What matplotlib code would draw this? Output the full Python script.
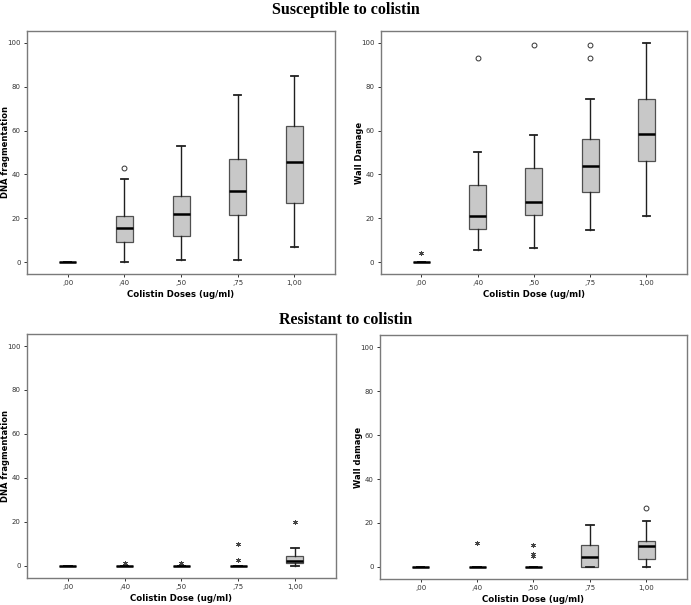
import numpy as np
import matplotlib.pyplot as plt

doses = [",00", ",40", ",50", ",75", "1,00"]

# five-number summaries: low whisker, q1, median, q3, high whisker
sus_dna_low = [0, 0, 1, 1, 7]
sus_dna_q1 = [0, 9, 12, 21.5, 27]
sus_dna_med = [0, 15.5, 22, 32.5, 45.5]
sus_dna_q3 = [0, 21, 30, 47, 62]
sus_dna_high = [0, 38, 53, 76, 85]
sus_dna_out = [[], [43], [], [], []]
sus_dna_ext = [[], [], [], [], []]

sus_wall_low = [0, 5.5, 6.5, 14.5, 21]
sus_wall_q1 = [0, 15, 21.5, 32, 46]
sus_wall_med = [0, 21, 27.5, 44, 58.5]
sus_wall_q3 = [0, 35, 43, 56, 74.5]
sus_wall_high = [0, 50, 58, 74.5, 100]
sus_wall_out = [[], [93], [99], [93, 99], []]
sus_wall_ext = [[4], [], [], [], []]

res_dna_low = [0, 0, 0, 0, 0]
res_dna_q1 = [0, 0, 0, 0, 1]
res_dna_med = [0, 0, 0, 0, 2]
res_dna_q3 = [0, 0, 0, 0, 4.5]
res_dna_high = [0, 0, 0, 0, 8]
res_dna_out = [[], [], [], [], []]
res_dna_ext = [[], [1], [1], [2.5, 10], [20]]

res_wall_low = [0, 0, 0, 0, 0]
res_wall_q1 = [0, 0, 0, 0, 3.5]
res_wall_med = [0, 0, 0, 4.5, 9.5]
res_wall_q3 = [0, 0, 0, 10, 12]
res_wall_high = [0, 0, 0, 19, 21]
res_wall_out = [[], [], [], [], [27]]
res_wall_ext = [[], [11], [5, 6, 10], [], []]

panels = [
    ([0.039, 0.547, 0.446, 0.402], "Colistin Doses (ug/ml)", "DNA fragmentation",
     sus_dna_low, sus_dna_q1, sus_dna_med, sus_dna_q3, sus_dna_high, sus_dna_out, sus_dna_ext),
    ([0.551, 0.547, 0.443, 0.402], "Colistin Dose (ug/ml)", "Wall Damage",
     sus_wall_low, sus_wall_q1, sus_wall_med, sus_wall_q3, sus_wall_high, sus_wall_out, sus_wall_ext),
    ([0.039, 0.045, 0.447, 0.403], "Colistin Dose (ug/ml)", "DNA fragmentation",
     res_dna_low, res_dna_q1, res_dna_med, res_dna_q3, res_dna_high, res_dna_out, res_dna_ext),
    ([0.550, 0.043, 0.444, 0.403], "Colistin Dose (ug/ml)", "Wall damage",
     res_wall_low, res_wall_q1, res_wall_med, res_wall_q3, res_wall_high, res_wall_out, res_wall_ext),
]

fig = plt.figure(figsize=(6.91, 6.05), dpi=100)

for rect, xlab, ylab, lo, q1, med, q3, hi, out, ext in panels:
    ax = fig.add_axes(rect)
    stats = []
    for i in range(len(doses)):
        stats.append(dict(whislo=lo[i], q1=q1[i], med=med[i], q3=q3[i], whishi=hi[i],
                          fliers=out[i], label=doses[i]))
    pos = np.arange(len(doses))
    ax.bxp(stats, positions=pos, widths=0.3, capwidths=0.13, patch_artist=True,
           boxprops=dict(facecolor="#c8c8c8", edgecolor="#505050", linewidth=0.9),
           medianprops=dict(color="black", linewidth=1.8),
           whiskerprops=dict(color="#202020", linewidth=1.0),
           capprops=dict(color="#202020", linewidth=1.3),
           flierprops=dict(marker="o", markersize=3.5, markerfacecolor="white",
                           markeredgecolor="#333333", markeredgewidth=0.7))
    for i in range(len(doses)):
        if ext[i]:
            ax.plot([pos[i]] * len(ext[i]), ext[i], linestyle="none", marker=(6, 2, 0),
                    markersize=3.5, color="#444444", markeredgewidth=0.6)
    ax.set_xlim(-0.72, 4.72)
    ax.set_ylim(-5.5, 105.5)
    ax.set_yticks([0, 20, 40, 60, 80, 100])
    ax.set_xticks(pos)
    ax.set_xticklabels(doses)
    ax.tick_params(labelsize=5, length=2.5, width=0.7, colors="#333333", pad=2)
    for s in ax.spines.values():
        s.set_color("#7a7a7a")
        s.set_linewidth(1.0)
    ax.set_xlabel(xlab, fontsize=6.2, fontweight="bold")
    ax.set_ylabel(ylab, fontsize=6.0, fontweight="bold")
    ax.xaxis.set_label_coords(0.5, -0.065)
    ax.yaxis.set_label_coords(-0.056, 0.5)

fig.text(0.5, 0.996, "Susceptible to colistin", ha="center", va="top",
         family="Liberation Serif", fontweight="bold", fontsize=11.5)
fig.text(0.5, 0.485, "Resistant to colistin", ha="center", va="top",
         family="Liberation Serif", fontweight="bold", fontsize=11.5)

fig.savefig("out.png", dpi=100)
